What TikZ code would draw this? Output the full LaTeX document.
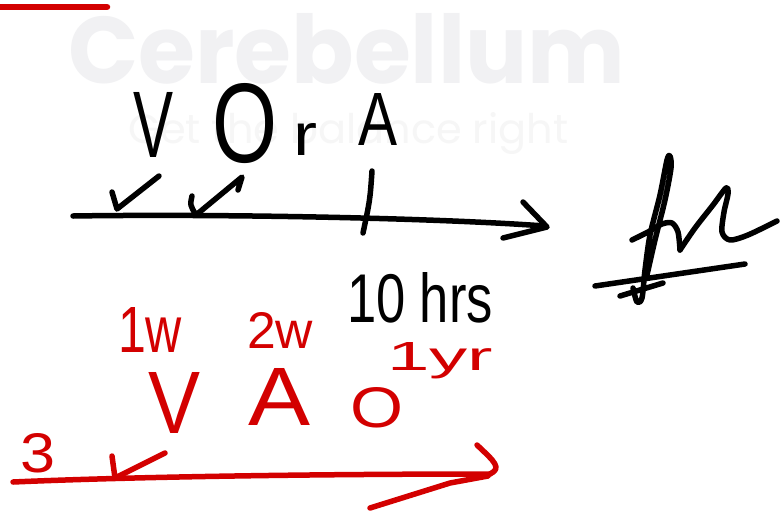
\documentclass[tikz,border=0pt]{standalone}
\usepackage{fontspec}
\setmainfont{Liberation Sans}
\newfontfamily\wmfont{Poppins}
\usepackage{graphicx}
\definecolor{penred}{HTML}{D30000}
\definecolor{wmgray}{HTML}{F1F1F3}
\definecolor{wmgraylight}{HTML}{F6F6F6}
\newcommand{\fitbox}[3]{\resizebox{#1pt}{#2pt}{#3}}
\tikzset{
  hand/.style={line width=5.5pt, line cap=round, line join=round},
  ink/.style={hand, draw=black},
  redink/.style={hand, draw=penred},
  hw/.style={inner sep=0pt, outer sep=0pt, anchor=base west},
  redtxt/.style={hw, text=penred},
}
\begin{document}
\begin{tikzpicture}[x=1pt,y=-1pt]
\useasboundingbox[fill=white] (0,0) rectangle (782,512);
% watermark
\node[hw, text=wmgray] (wm1) at (68,83) {\fitbox{557}{70}{\wmfont\bfseries Cerebellum}};
\node[hw, text=wmgraylight] (wm2) at (128,143) {\fitbox{440}{31}{\wmfont Get the balance right}};
% red mark top-left
\draw[redink, line width=6.5pt] (-5,7) -- (107,7);
% black letters
\node[hw] (V1) at (133,157) {\fitbox{40}{65}{V}};
\node[hw] (O1) at (212,162) {\fitbox{65}{79}{O}};
\node[hw] (r1) at (293,155) {\fitbox{24}{32}{r}};
\node[hw] (A1) at (358,145) {\fitbox{39}{52}{A}};
\node[hw] (hrs) at (347,322) {\fitbox{146}{50}{10 hrs}};
% black axis
\coordinate (ax0) at (73,216);
\coordinate (ax1) at (545,226);
\draw[ink] (ax0) .. controls (200,214) and (420,217) .. (ax1);
\draw[ink] (523,202) -- (547,227) -- (503,238);
% black ticks
\draw[ink] (112,192) -- (117,209) -- (159,176);
\draw[ink] (192,196) .. controls (190,205) .. (196,215) -- (242,177) -- (238,190);
\draw[ink] (372,171) .. controls (370,200) .. (363,233);
% signature
\draw[ink] plot[smooth] coordinates {(633,288) (637,302) (642,298) (645,270) (650,235) (660,195) (667,160) (670,156) (671,168) (665,200) (655,240) (647,275)};
\draw[ink] plot[smooth] coordinates {(632,240) (648,232) (662,224) (672,223) (678,232) (680,250)};
\draw[ink] plot[smooth] coordinates {(680,250) (695,228) (713,205) (726,188) (728,194) (724,212) (722,232) (730,240) (748,235) (777,221)};
\draw[ink] (595,286) -- (745,264);
\draw[ink] (620,296) -- (663,283);
% red letters
\node[redtxt] (w1) at (118,352) {\fitbox{64}{45}{1w}};
\node[redtxt] (w2) at (247,348) {\fitbox{66}{36}{2w}};
\node[redtxt] (V2) at (148,433) {\fitbox{52}{61}{V}};
\node[redtxt] (A2) at (248,425) {\fitbox{62}{57}{A}};
\node[redtxt] (O2) at (350,427) {\fitbox{53}{40}{O}};
\node[redtxt] (yr) at (387,370) {\fitbox{106}{28}{1yr}};
\node[redtxt] (n3) at (20,472) {\fitbox{35}{39}{3}};
% red axis
\coordinate (rx0) at (13,482);
\coordinate (rx1) at (490,474);
\draw[redink] (rx0) .. controls (150,476) and (350,474) .. (rx1);
\draw[redink] (477,445) .. controls (495,462) and (502,468) .. (rx1);
\draw[redink] (370,508) -- (450,483) -- (488,476);
\draw[redink] (112,456) -- (115,478) -- (165,453);
\end{tikzpicture}
\end{document}
